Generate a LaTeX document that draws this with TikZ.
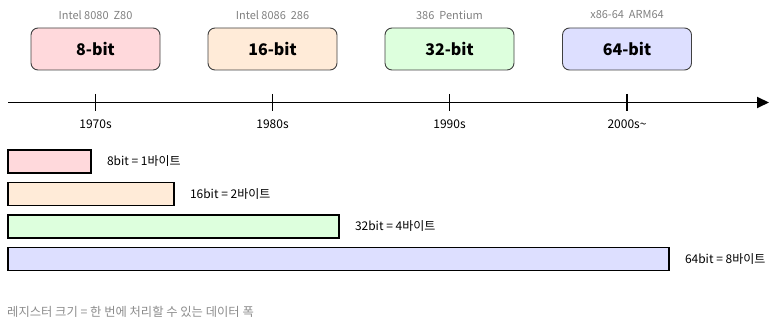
\documentclass[tikz,border=0pt]{standalone}
\usepackage{fontspec}
\setmainfont{Noto Sans CJK KR}
\usepackage{tikz}
\usetikzlibrary{arrows.meta,positioning}
\definecolor{pinkE}{HTML}{FFD9DC}
\definecolor{peachE}{HTML}{FFEBD8}
\definecolor{mintE}{HTML}{DDFFDD}
\definecolor{lavE}{HTML}{DDDFFF}

\begin{document}
\begin{tikzpicture}[
  x=1pt, y=-1pt,
  era/.style={draw=black!75, rounded corners=7pt, line width=0.9pt,
    minimum width=129pt, minimum height=42pt, font=\fontsize{16}{18}\selectfont\bfseries, inner sep=2pt},
  chip/.style={font=\fontsize{11}{13}\selectfont, text=black!50, inner sep=1pt},
  year/.style={font=\fontsize{12}{14}\selectfont, inner sep=1pt},
  bar/.style={draw=black, line width=1.8pt, minimum height=23pt, inner sep=0pt, anchor=west},
  barlabel/.style={font=\fontsize{12}{14}\selectfont, inner sep=0pt},
  axis/.style={line width=1.8pt, -{Triangle[length=12pt,width=11pt]}},
  yeartick/.style={line width=1.8pt},
  note/.style={font=\fontsize{12.3}{14}\selectfont, text=black!45, inner sep=0pt, anchor=west}
]
  \useasboundingbox (0,0) rectangle (770,320);

  % Era boxes (top row) with chips above
  \node[era, fill=pinkE]  (e8)  at ( 95.5, 49) {8-bit};
  \node[era, fill=peachE] (e16) at (272.5, 49) {16-bit};
  \node[era, fill=mintE]  (e32) at (449.5, 49) {32-bit};
  \node[era, fill=lavE]   (e64) at (627.0, 49) {64-bit};

  \node[chip] (c8)  at ( 95.5, 15) {Intel 8080\ \ Z80};
  \node[chip] (c16) at (272.5, 15) {Intel 8086\ \ 286};
  \node[chip] (c32) at (449.5, 15) {386\ \ Pentium};
  \node[chip] (c64) at (627.0, 15) {x86-64\ \ ARM64};

  % Time axis
  \coordinate (ax0) at (8, 102.5);
  \coordinate (ax1) at (769, 102.5);
  \draw[axis] (ax0) -- (ax1);

  \foreach \x/\yr [count=\i] in {95.5/1970s, 272.5/1980s, 449.5/1990s, 627.0/2000s\textasciitilde} {
    \draw[yeartick] (\x, 94) -- (\x, 111);
    \node[year] (yr\i) at (\x, 124) {\yr};
  }

  % Register width bars
  \node[bar, fill=pinkE,  minimum width=83pt]  (b8)  at (7, 161.5) {};
  \node[bar, fill=peachE, minimum width=166pt] (b16) at (7, 194) {};
  \node[bar, fill=mintE,  minimum width=331pt] (b32) at (7, 226.5) {};
  \node[bar, fill=lavE,   minimum width=661pt] (b64) at (7, 259) {};

  \node[barlabel, right=15pt of b8]  (l8)  {8bit = 1바이트};
  \node[barlabel, right=15pt of b16] (l16) {16bit = 2바이트};
  \node[barlabel, right=15pt of b32] (l32) {32bit = 4바이트};
  \node[barlabel, right=15pt of b64] (l64) {64bit = 8바이트};

  \node[note] (nt) at (7, 312) {레지스터 크기 = 한 번에 처리할 수 있는 데이터 폭};

\end{tikzpicture}
\end{document}
